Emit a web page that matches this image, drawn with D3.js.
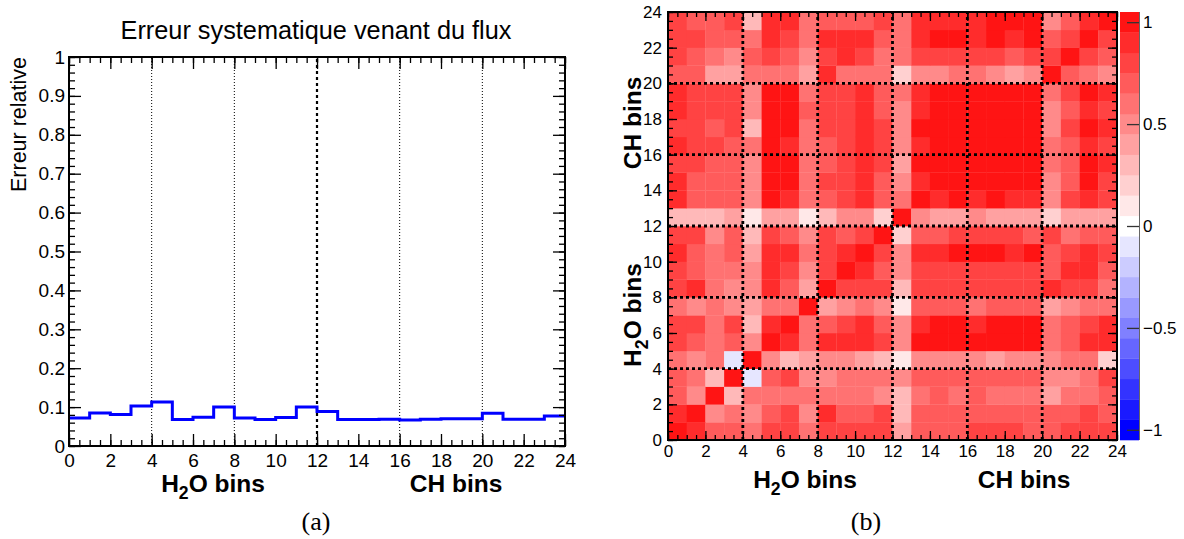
<!DOCTYPE html>
<html><head><meta charset="utf-8">
<script src="https://cdn.jsdelivr.net/npm/d3@7/dist/d3.min.js"></script>
<style>body{margin:0;background:#fff;}</style>
</head><body>
<svg id="c" width="1184" height="539"></svg>
<script>
// ---------- data ----------
const histBins = d3.range(0, 24);
const histValues = [0.072,0.085,0.081,0.103,0.113,0.068,0.074,0.100,0.072,0.068,0.073,0.100,
                    0.089,0.068,0.068,0.069,0.067,0.069,0.070,0.070,0.084,0.069,0.069,0.077];
const xTicks = [0,2,4,6,8,10,12,14,16,18,20,22,24];
const yTicksLeft = [0,0.1,0.2,0.3,0.4,0.5,0.6,0.7,0.8,0.9,1];
const separators = [4,8,12,16,20];
const colorbarTicks = [-1,-0.5,0,0.5,1];
// correlation matrix rows: corr[y][x], y = 0 (bottom) .. 23 (top)
const corr = [
 [1.0,0.9,0.7,0.7,0.6,0.8,0.8,0.6,0.8,0.8,0.8,0.8,0.4,0.7,0.7,0.7,0.8,0.8,0.8,0.7,0.7,0.8,0.8,0.8],
 [0.9,1.0,0.5,0.6,0.5,0.7,0.8,0.5,0.9,0.7,0.7,0.8,0.3,0.7,0.7,0.7,0.7,0.7,0.7,0.7,0.7,0.7,0.8,0.7],
 [0.7,0.5,1.0,0.3,0.6,0.6,0.6,0.6,0.6,0.6,0.6,0.5,0.3,0.6,0.7,0.6,0.7,0.6,0.6,0.6,0.4,0.6,0.6,0.7],
 [0.7,0.6,0.3,1.0,-0.1,0.7,0.8,0.5,0.5,0.6,0.6,0.6,0.5,0.7,0.7,0.7,0.7,0.7,0.7,0.7,0.5,0.5,0.6,0.8],
 [0.6,0.5,0.6,-0.1,1.0,0.5,0.3,0.4,0.5,0.5,0.4,0.3,0.1,0.5,0.5,0.5,0.5,0.4,0.5,0.5,0.5,0.6,0.6,0.2],
 [0.8,0.7,0.6,0.7,0.5,1.0,0.9,0.6,0.9,0.9,0.9,0.8,0.5,1.0,1.0,1.0,1.0,1.0,1.0,1.0,0.6,0.7,0.9,0.9],
 [0.8,0.8,0.6,0.8,0.3,0.9,1.0,0.6,0.7,0.8,0.9,0.7,0.5,0.9,1.0,1.0,0.9,1.0,1.0,1.0,0.6,0.7,0.8,0.9],
 [0.6,0.5,0.6,0.5,0.4,0.6,0.6,1.0,0.4,0.5,0.6,0.5,0.1,0.7,0.7,0.7,0.6,0.7,0.7,0.7,0.4,0.5,0.6,0.6],
 [0.8,0.9,0.6,0.5,0.5,0.9,0.7,0.4,1.0,0.8,0.8,0.8,0.3,0.8,0.8,0.8,0.8,0.8,0.8,0.8,0.9,0.8,0.8,0.6],
 [0.8,0.7,0.6,0.6,0.5,0.9,0.8,0.5,0.8,1.0,0.9,0.7,0.5,0.8,0.8,0.8,0.8,0.8,0.8,0.8,0.7,0.9,0.9,0.7],
 [0.9,0.7,0.6,0.7,0.4,0.9,0.9,0.6,0.8,0.9,1.0,0.8,0.5,0.9,0.9,1.0,1.0,1.0,0.9,1.0,0.7,0.8,0.9,0.8],
 [0.8,0.8,0.5,0.7,0.3,0.8,0.7,0.5,0.8,0.7,0.8,1.0,0.2,0.7,0.7,0.8,0.8,0.8,0.8,0.7,0.8,0.6,0.7,0.7],
 [0.3,0.3,0.3,0.4,0.1,0.4,0.4,0.1,0.3,0.5,0.5,0.2,1.0,0.5,0.4,0.4,0.5,0.4,0.4,0.4,0.2,0.4,0.4,0.4],
 [0.9,0.7,0.7,0.7,0.5,1.0,0.9,0.6,0.7,0.8,0.9,0.7,0.6,1.0,0.9,1.0,0.9,1.0,0.9,0.9,0.5,0.8,0.9,0.8],
 [0.9,0.7,0.7,0.7,0.5,1.0,1.0,0.6,0.8,0.8,0.9,0.7,0.5,0.9,1.0,1.0,1.0,1.0,1.0,1.0,0.5,0.7,1.0,0.8],
 [0.8,0.8,0.7,0.7,0.5,1.0,1.0,0.6,0.7,0.8,0.9,0.8,0.4,1.0,1.0,1.0,1.0,1.0,1.0,1.0,0.6,0.7,1.0,0.9],
 [0.9,0.8,0.8,0.7,0.6,1.0,0.9,0.6,0.7,0.8,0.9,0.8,0.5,0.9,1.0,1.0,1.0,1.0,1.0,1.0,0.6,0.7,0.9,0.8],
 [0.8,0.8,0.7,0.8,0.3,1.0,1.0,0.6,0.8,0.8,0.9,0.8,0.5,1.0,1.0,1.0,1.0,1.0,1.0,1.0,0.5,0.8,1.0,0.9],
 [0.9,0.8,0.8,0.8,0.5,1.0,1.0,0.7,0.8,0.8,0.9,0.7,0.5,0.9,1.0,1.0,1.0,1.0,1.0,1.0,0.5,0.7,0.9,0.8],
 [0.9,0.8,0.8,0.8,0.5,1.0,1.0,0.6,0.8,0.8,0.9,0.7,0.6,0.9,1.0,1.0,1.0,1.0,1.0,1.0,0.6,0.8,1.0,0.9],
 [0.7,0.7,0.4,0.4,0.6,0.6,0.6,0.4,0.9,0.6,0.6,0.6,0.2,0.5,0.5,0.6,0.6,0.5,0.4,0.5,1.0,0.7,0.6,0.5],
 [0.8,0.7,0.6,0.5,0.7,0.8,0.7,0.5,0.8,0.9,0.8,0.6,0.6,0.8,0.8,0.8,0.8,0.8,0.7,0.8,0.8,1.0,0.8,0.7],
 [0.8,0.8,0.7,0.7,0.6,0.9,0.8,0.6,0.9,0.9,0.9,0.7,0.6,0.9,1.0,1.0,0.9,1.0,0.9,1.0,0.7,0.8,1.0,0.8],
 [0.8,0.7,0.7,0.8,0.3,0.9,0.9,0.6,0.7,0.7,0.7,0.8,0.6,0.9,0.9,0.9,0.9,1.0,1.0,1.0,0.5,0.7,0.9,1.0]
];

// ---------- helpers ----------
const svg = d3.select("#c");
const FONT = '"Liberation Sans",Arial,sans-serif';
const SERIF = '"Liberation Serif","DejaVu Serif",serif';

function bandColor(k){ // k in -10..10
  if (k >= 0){ const g = Math.round(255 - k*23.5); return `rgb(255,${g},${g})`; }
  const g = Math.round(255 + k*25.5); return `rgb(${g},${g},255)`;
}
function valColor(v){ let k = Math.round(v*10); k = Math.max(-10, Math.min(10, k)); return bandColor(k); }

function frameAxes(g, xs, ys, xMajor, xMinor, yMajor, yMinor, majLen, minLen, xPad, yPad, yFmt, fs){
  const [x0,x1] = xs.range(), [y0,y1] = ys.range();
  const noDomain = a=>a.select(".domain").remove();
  g.append("g").attr("transform",`translate(0,${y0})`)
    .call(d3.axisBottom(xs).tickValues(xMinor).tickSize(-minLen).tickFormat("")).call(noDomain);
  g.append("g").attr("transform",`translate(0,${y0})`)
    .call(d3.axisBottom(xs).tickValues(xMajor).tickSize(-majLen).tickPadding(xPad).tickFormat(d3.format("d"))).call(noDomain);
  g.append("g").attr("transform",`translate(0,${y1})`)
    .call(d3.axisTop(xs).tickValues(xMinor).tickSize(-minLen).tickFormat("")).call(noDomain);
  g.append("g").attr("transform",`translate(0,${y1})`)
    .call(d3.axisTop(xs).tickValues(xMajor).tickSize(-majLen).tickFormat("")).call(noDomain);
  g.append("g").attr("transform",`translate(${x0},0)`)
    .call(d3.axisLeft(ys).tickValues(yMinor).tickSize(-minLen).tickFormat("")).call(noDomain);
  g.append("g").attr("transform",`translate(${x0},0)`)
    .call(d3.axisLeft(ys).tickValues(yMajor).tickSize(-majLen).tickPadding(yPad).tickFormat(yFmt)).call(noDomain);
  g.append("g").attr("transform",`translate(${x1},0)`)
    .call(d3.axisRight(ys).tickValues(yMinor).tickSize(-minLen).tickFormat("")).call(noDomain);
  g.append("g").attr("transform",`translate(${x1},0)`)
    .call(d3.axisRight(ys).tickValues(yMajor).tickSize(-majLen).tickFormat("")).call(noDomain);
  g.selectAll(".tick line").attr("stroke","#000").attr("stroke-width",1.3);
  g.selectAll(".tick text").style("font-family",FONT).style("font-size",fs+"px").attr("fill","#000");
  g.append("rect").attr("x",x0).attr("y",y1).attr("width",x1-x0).attr("height",y0-y1)
    .attr("fill","none").attr("stroke","#000").attr("stroke-width",2);
}

function label(parent, x, y, fs, txt, opts){
  opts = opts || {};
  return parent.append("text")
    .attr("transform", opts.rotate ? `translate(${x},${y}) rotate(-90)` : `translate(${x},${y})`)
    .attr("text-anchor", opts.anchor || "middle")
    .style("font-family", opts.family || FONT)
    .style("font-size", fs+"px")
    .style("font-weight", opts.bold ? "bold" : "normal")
    .text(txt);
}
function h2oLabel(parent, x, y, fs, rotate){
  const t = label(parent, x, y, fs, null, {bold:true, rotate});
  t.append("tspan").text("H");
  t.append("tspan").text("2").style("font-size",(fs*0.72)+"px").attr("dy",fs*0.3);
  t.append("tspan").text("O bins").attr("dy",-fs*0.3);
  return t;
}

// ---------- left panel ----------
const xL = d3.scaleLinear([0,24],[69,565]);
const yL = d3.scaleLinear([0,1],[446,57]);
const gL = svg.append("g");

separators.forEach(s=>{
  gL.append("line").attr("x1",xL(s)).attr("x2",xL(s)).attr("y1",yL(0)).attr("y2",yL(1))
    .attr("stroke","#000")
    .attr("stroke-width", s===12 ? 2.2 : 1)
    .attr("stroke-dasharray", s===12 ? "3,3" : "1,2");
});

const stepPts = [];
histValues.forEach((v,i)=>{ stepPts.push([histBins[i],v]); stepPts.push([histBins[i]+1,v]); });
gL.append("path").datum(stepPts)
  .attr("d", d3.line().x(d=>xL(d[0])).y(d=>yL(d[1])))
  .attr("fill","none").attr("stroke","#0000ff").attr("stroke-width",3);

frameAxes(gL, xL, yL, xTicks, d3.range(0,24.01,0.5), yTicksLeft, d3.range(0,1.001,0.02),
  12, 6, 8, 4, d=>d===0||d===1?d3.format("d")(d):d3.format(".1f")(d), 19);

label(svg, 316, 39, 25.3, "Erreur systematique venant du flux");
label(svg, 26, 57, 21.5, "Erreur relative", {rotate:true, anchor:"end"});
h2oLabel(svg, 213, 492, 24.5, false);
label(svg, 456, 492, 24.5, "CH bins", {bold:true});

// ---------- right panel ----------
const xH = d3.scaleLinear([0,24],[668,1117]);
const yH = d3.scaleLinear([0,24],[440,12]);
const gR = svg.append("g");
const cells = [];
corr.forEach((row,j)=>row.forEach((v,i)=>cells.push({i,j,v})));
gR.selectAll("rect.cell").data(cells).enter().append("rect").attr("class","cell")
  .attr("x",d=>xH(d.i)).attr("y",d=>yH(d.j+1))
  .attr("width",d=>xH(d.i+1)-xH(d.i)+0.3).attr("height",d=>yH(d.j)-yH(d.j+1)+0.3)
  .attr("fill",d=>valColor(d.v));

separators.forEach(s=>{
  gR.append("line").attr("x1",xH(s)).attr("x2",xH(s)).attr("y1",yH(0)).attr("y2",yH(24))
    .attr("stroke","#000").attr("stroke-width",2.8).attr("stroke-dasharray","3,3");
  gR.append("line").attr("y1",yH(s)).attr("y2",yH(s)).attr("x1",xH(0)).attr("x2",xH(24))
    .attr("stroke","#000").attr("stroke-width",2.8).attr("stroke-dasharray","3,3");
});

frameAxes(gR, xH, yH, xTicks, d3.range(0,24.01,0.5), xTicks, d3.range(0,24.01,0.5),
  9, 5, 5, 6, d3.format("d"), 17);

// colorbar
const yC = d3.scaleLinear([-1.05,1.05],[440,12]);
const bands = d3.range(-10,11);
svg.append("g").selectAll("rect").data(bands).enter().append("rect")
  .attr("x",1120).attr("width",19)
  .attr("y",k=>yC(k/10+0.05)).attr("height",k=>yC(k/10-0.05)-yC(k/10+0.05)+0.3)
  .attr("fill",k=>bandColor(k));
svg.append("line").attr("x1",1139.5).attr("x2",1139.5).attr("y1",12).attr("y2",440)
  .attr("stroke","#666").attr("stroke-width",1);
const cb = svg.append("g").attr("transform","translate(1139,0)")
  .call(d3.axisRight(yC).tickValues(colorbarTicks).tickSize(-12).tickPadding(4)
    .tickFormat(d=>d===0?"0":(d<0?"\u2212":"")+d3.format("")(Math.abs(d))));
cb.select(".domain").remove();
cb.selectAll(".tick line").attr("stroke","#333").attr("stroke-width",1.3);
cb.selectAll(".tick text").style("font-family",FONT).style("font-size","17px").attr("fill","#000");

h2oLabel(svg, 805, 488, 24.5, false);
label(svg, 1024, 488, 24.5, "CH bins", {bold:true});
label(svg, 641, 123, 24.5, "CH bins", {bold:true, rotate:true});
h2oLabel(svg, 641, 315, 24.5, true);

// captions
label(svg, 316, 530, 26, "(a)", {family:SERIF});
label(svg, 866, 530, 26, "(b)", {family:SERIF});
</script>
</body></html>
